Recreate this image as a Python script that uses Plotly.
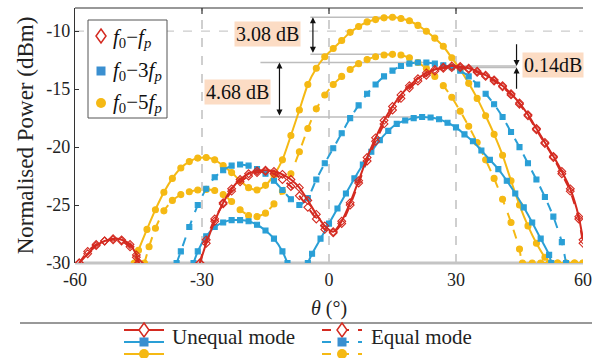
import plotly.graph_objects as go

# ---------------- data ----------------
theta_red_unequal = [-59, -57, -55, -53, -51, -49, -47, -45.5, -44.8, None,
                     -30.5, -29, -27, -25, -23, -21, -19, -17, -15, -13, -11, -9, -7, -5, -3, -1,
                     1, 3, 5, 7, 9, 11, 13, 15, 17, 19, 21, 23, 25, 27, 29, 31, 33, 35, 37, 39,
                     41, 43, 45, 47, 49, 51, 53, 55, 57, 59, 60]
power_red_unequal = [-30, -29.2, -28.5, -28.1, -27.9, -28.0, -28.4, -29.3, -30, None,
                     -30, -28.3, -26.4, -24.8, -23.6, -22.8, -22.3, -22.05, -22.0, -22.1, -22.35, -22.8, -23.5, -24.6, -25.8, -26.8,
                     -27.3, -26.4, -24.8, -22.9, -20.9, -19.2, -17.7, -16.5, -15.5, -14.7, -14.1, -13.6, -13.3, -13.1, -13.0, -13.05, -13.2, -13.45, -13.8, -14.2,
                     -14.7, -15.4, -16.2, -17.2, -18.4, -19.6, -20.8, -22.1, -23.6, -26.0, -28.0]

theta_red_equal = [-59, -57, -55, -53, -51, -49, -47, -45.5, -45, None,
                   -30.5, -29, -27, -25, -23, -21, -19, -17, -15, -13, -11, -9, -7, -5, -3, -1,
                   1, 3, 5, 7, 9, 11, 13, 15, 17, 19, 21, 23, 25, 27, 29, 31, 33, 35, 37, 39,
                   41, 43, 45, 47, 49, 51, 53, 55, 57, 59, 60]
power_red_equal = [-30, -29.0, -28.4, -28.1, -28.0, -28.1, -28.6, -29.5, -30, None,
                   -30, -28.0, -26.2, -24.9, -23.8, -23.0, -22.5, -22.2, -22.1, -22.3, -22.8, -23.4, -24.2, -25.2, -26.2, -27.1,
                   -27.4, -26.6, -25.0, -23.1, -21.2, -19.5, -18.0, -16.8, -15.8, -14.9, -14.3, -13.8, -13.45, -13.2, -13.14, -13.15, -13.3, -13.55, -13.9, -14.3,
                   -14.8, -15.5, -16.3, -17.3, -18.5, -19.7, -20.9, -22.3, -23.8, -26.2, -28.3]

theta_blue_unequal = [-32, -31, -29, -27, -25, -23, -21, -19, -17, -15, -13, -11, -9.8, None,
                      -5, -4, -2, 0, 2, 4, 6, 8, 10, 12, 14, 16, 18, 20, 22, 24, 26, 28, 30,
                      32, 34, 36, 38, 40, 42, 44, 46, 48, 50, 52, 52.5]
power_blue_unequal = [-30, -29.0, -27.7, -26.9, -26.5, -26.3, -26.3, -26.4, -26.7, -27.2, -27.9, -29.0, -30, None,
                      -30, -29.2, -27.9, -26.6, -25.3, -24.0, -22.7, -21.5, -20.4, -19.4, -18.6, -18.0, -17.7, -17.5, -17.4, -17.45, -17.6, -17.9, -18.3,
                      -18.9, -19.5, -20.3, -21.1, -21.9, -22.9, -24.0, -25.2, -26.5, -27.9, -29.3, -30]

theta_blue_equal = [-36, -35, -33, -31, -29, -27, -25, -23, -21, -19, -17, -15, -13, -11, -9, -7, -5, -3, -1,
                    1, 3, 5, 7, 9, 11, 13, 15, 17, 19, 21, 23, 25, 27, 29, 31, 33, 35, 37, 39,
                    41, 43, 45, 47, 49, 51, 53, 55, 56]
power_blue_equal = [-30, -29.0, -26.9, -25.0, -23.6, -22.6, -22.0, -21.6, -21.5, -21.6, -21.9, -22.3, -22.9, -23.7, -24.5, -25.0, -24.4, -22.8, -21.4,
                    -20.1, -18.8, -17.5, -16.4, -15.4, -14.6, -13.9, -13.4, -13.0, -12.8, -12.7, -12.7, -12.8, -12.95, -13.1, -13.4, -13.9, -14.6, -15.4, -16.3,
                    -17.4, -18.7, -20.0, -21.4, -22.8, -24.3, -26.0, -28.2, -30]

theta_yellow_unequal = [-46, -45, -43, -41, -39, -37, -35, -33, -31, -29, -27, -25, -23, -21, -19, -17, -15, -13, -11, -9, -7, -5, -3, -1,
                        1, 3, 5, 7, 9, 11, 13, 15, 17, 19, 21, 23, 25, 27, 29, 31, 33, 35, 37, 39,
                        41, 43, 45, 47, 49, 51, 52.4, 54, 56, 58, 60]
power_yellow_unequal = [-30, -28.9, -27.1, -25.4, -23.9, -22.7, -21.8, -21.25, -20.95, -20.9, -21.1, -21.6, -22.2, -22.9, -23.5, -23.7, -23.3, -22.4, -21.1, -19.0, -16.8, -14.6, -13.2, -12.2,
                        -11.5, -10.8, -10.1, -9.6, -9.2, -9.0, -8.85, -8.8, -8.9, -9.1, -9.5, -10.0, -10.6, -11.3, -12.3, -13.3, -14.5, -15.8, -17.3, -18.9,
                        -20.7, -22.9, -25.0, -26.8, -28.3, -29.5, -30, -30, -30, -30, -30]

theta_yellow_equal = [-43.6, -42.5, -41, -39, -37, -35, -33, -31, -29, -27, -25, -23, -21, -19, -17, -15, -13, -11, -9, -7, -5, -3, -1,
                      1, 3, 5, 7, 9, 11, 13, 15, 17, 19, 21, 23, 25, 27, 29, 31, 33, 35, 37, 39,
                      41, 43, 45, 45.7, 48, 50, 52, 54, 56, 58, 60]
power_yellow_equal = [-30, -28.6, -27.0, -25.5, -24.6, -24.1, -23.85, -23.7, -23.65, -23.75, -24.1, -24.7, -25.4, -25.9, -26.0, -25.7, -24.9, -23.8, -22.3, -20.4, -18.4, -16.7, -15.5,
                      -14.6, -13.9, -13.3, -12.8, -12.45, -12.2, -12.05, -12.0, -12.05, -12.3, -12.7, -13.2, -13.9, -14.7, -15.7, -16.9, -18.2, -19.6, -21.1, -22.7,
                      -24.5, -26.5, -28.8, -30, -30, -30, -30, -30, -30, -30, -30]

x_tick_vals = [-60, -30, 0, 30, 60]
x_tick_text = ["-60", "-30", "0", "30", "60"]
y_tick_vals = [-30, -25, -20, -15, -10]
y_tick_text = ["-30", "-25", "-20", "-15", "-10"]
grid_x = [-30, 0, 30]
grid_y = [-10]

series_labels = ["<i>f</i><sub>0</sub>−<i>f</i><sub><i>p</i></sub>",
                 "<i>f</i><sub>0</sub>−3<i>f</i><sub><i>p</i></sub>",
                 "<i>f</i><sub>0</sub>−5<i>f</i><sub><i>p</i></sub>"]
mode_labels = ["Unequal mode", "Equal mode"]
diff_labels = ["3.08 dB", "4.68 dB", "0.14dB"]

# ---------------- styling ----------------
RED = "#d42a20"
BLUE = "#2a9fd6"
YELLOW = "#f5b914"
PEACH = "#fcdcc4"
FONT = "Liberation Serif, Times New Roman, serif"

W, H = 605, 358
L, R, T, B = 75, 22, 8, 95
PW, PH = W - L - R, H - T - B


def px(x):
    return (x - L) / PW


def py(y):
    return (H - B - y) / PH


def peak(vals):
    return max(v for v in vals if v is not None)


fig = go.Figure()

trace_specs = [
    (theta_yellow_unequal, power_yellow_unequal, YELLOW, "solid", "circle", 6),
    (theta_yellow_equal, power_yellow_equal, YELLOW, "dash", "circle", 6),
    (theta_blue_unequal, power_blue_unequal, BLUE, "solid", "square", 5),
    (theta_blue_equal, power_blue_equal, BLUE, "dash", "square", 5),
    (theta_red_unequal, power_red_unequal, RED, "solid", "diamond-open", 6),
    (theta_red_equal, power_red_equal, RED, "dash", "diamond-open", 6),
]
for xs, ys, col, dash, sym, size in trace_specs:
    fig.add_trace(go.Scatter(
        x=xs, y=ys, mode="lines+markers",
        line=dict(color=col, width=2, dash=dash, shape="spline", smoothing=0.6),
        marker=dict(symbol=sym, size=size, color=col, line=dict(color=col, width=1.1)),
        showlegend=False, hoverinfo="skip",
    ))

shapes = []
# grid lines
for gx in grid_x:
    shapes.append(dict(type="line", xref="x", yref="paper", x0=gx, x1=gx, y0=0, y1=1,
                       line=dict(color="#b0b0b0", width=1.2, dash="dash"), layer="below"))
    shapes.append(dict(type="line", xref="x", yref="paper", x0=gx, x1=gx, y0=1, y1=1 - 6 / PH,
                       line=dict(color="#333", width=1.2), layer="above"))
for gy in grid_y:
    shapes.append(dict(type="line", xref="paper", yref="y", x0=0, x1=1, y0=gy, y1=gy,
                       line=dict(color="#cccccc", width=1.2, dash="dash"), layer="below"))
# top frame line and bottom axis band
shapes.append(dict(type="line", xref="paper", yref="paper", x0=0, x1=1, y0=1, y1=1,
                   line=dict(color="#333", width=1.2), layer="above"))
shapes.append(dict(type="line", xref="paper", yref="paper", x0=0, x1=1, y0=0, y1=0,
                   line=dict(color="#c4c4c4", width=3), layer="below"))

# guide lines for the differences
pk_y_u = peak(power_yellow_unequal)
pk_y_e = peak(power_yellow_equal)
pk_b_u = peak(power_blue_unequal)
pk_b_e = peak(power_blue_equal)
pk_r_u = peak(power_red_unequal)
pk_r_e = peak(power_red_equal)
GUIDE = dict(color="#bdbdbd", width=1.5)
for yv in (pk_y_u, pk_y_e):
    shapes.append(dict(type="line", xref="x", yref="y", x0=-4.4, x1=14.8, y0=yv, y1=yv, line=GUIDE, layer="below"))
for yv in (pk_b_e, pk_b_u):
    shapes.append(dict(type="line", xref="x", yref="y", x0=-16.2, x1=22.6, y0=yv, y1=yv, line=GUIDE, layer="below"))
for yv in (pk_r_u, pk_r_e):
    shapes.append(dict(type="line", xref="x", yref="y", x0=26.7, x1=44.3, y0=yv, y1=yv, line=GUIDE, layer="below"))

annotations = []
ABOX = dict(font=dict(family=FONT, size=20, color="#111"), bgcolor=PEACH, borderpad=1, showarrow=False,
            xref="x", yref="y")
annotations.append(dict(text=diff_labels[0], x=-14.5, y=-10.26, **ABOX))
annotations.append(dict(text=diff_labels[1], x=-21.7, y=-15.26, **ABOX))
annotations.append(dict(text=diff_labels[2], x=52.9, y=-12.93, **ABOX))

ARW = dict(text="", showarrow=True, xref="x", yref="y", axref="x", ayref="y",
           arrowcolor="#111", arrowwidth=1.2, arrowsize=1, arrowhead=2, standoff=0, startstandoff=0)
annotations.append(dict(x=-3.8, y=pk_y_u, ax=-3.8, ay=pk_y_e, arrowside="end+start", startarrowhead=2, **ARW))
annotations.append(dict(x=-11.7, y=pk_b_e, ax=-11.7, ay=pk_b_u, arrowside="end+start", startarrowhead=2, **ARW))
annotations.append(dict(x=44.3, y=pk_r_u, ax=44.3, ay=-11.0, **ARW))
annotations.append(dict(x=44.3, y=pk_r_e, ax=44.3, ay=-15.1, **ARW))

# top-left symbol legend
shapes.append(dict(type="rect", xref="paper", yref="paper", x0=px(88), x1=px(167), y0=py(118), y1=py(20),
                   line=dict(color="#555", width=1), fillcolor="white", layer="above"))
shapes.append(dict(type="path", xref="paper", yref="paper",
                   path=f"M {px(101)},{py(29)} L {px(106)},{py(36)} L {px(101)},{py(43)} L {px(96)},{py(36)} Z",
                   line=dict(color=RED, width=1.5), fillcolor="white", layer="above"))
shapes.append(dict(type="rect", xref="paper", yref="paper", x0=px(96.5), x1=px(105.5), y0=py(75.5), y1=py(66.5),
                   line=dict(color="#3a8fd0", width=0), fillcolor="#3a8fd0", layer="above"))
shapes.append(dict(type="circle", xref="paper", yref="paper", x0=px(96), x1=px(106), y0=py(108), y1=py(98),
                   line=dict(color=YELLOW, width=0), fillcolor=YELLOW, layer="above"))
for lab, yy in zip(series_labels, (38, 71, 103)):
    annotations.append(dict(text=lab, x=px(111), y=py(yy), xref="paper", yref="paper", xanchor="left",
                            yanchor="middle", showarrow=False, font=dict(family=FONT, size=21, color="#111")))

# bottom line-style legend
shapes.append(dict(type="line", xref="paper", yref="paper", x0=px(20), x1=px(592), y0=py(323), y1=py(323),
                   line=dict(color="#333", width=1)))
rows = [(330, RED, "diamond"), (342, BLUE, "square"), (354, YELLOW, "circle")]
for cx0, dash in ((124, "solid"), (322, "dash")):
    mx = cx0 + 20
    for ry, col, kind in rows:
        shapes.append(dict(type="line", xref="paper", yref="paper", x0=px(cx0), x1=px(cx0 + 40), y0=py(ry), y1=py(ry),
                           line=dict(color=col, width=2, dash=dash)))
        if kind == "diamond":
            shapes.append(dict(type="path", xref="paper", yref="paper",
                               path=f"M {px(mx)},{py(ry - 7)} L {px(mx + 5)},{py(ry)} L {px(mx)},{py(ry + 7)} L {px(mx - 5)},{py(ry)} Z",
                               line=dict(color=col, width=1.5), fillcolor="white"))
        elif kind == "square":
            shapes.append(dict(type="rect", xref="paper", yref="paper", x0=px(mx - 4.5), x1=px(mx + 4.5),
                               y0=py(ry + 4.5), y1=py(ry - 4.5), line=dict(width=0), fillcolor="#3a8fd0"))
        else:
            shapes.append(dict(type="circle", xref="paper", yref="paper", x0=px(mx - 5), x1=px(mx + 5),
                               y0=py(ry + 5), y1=py(ry - 5), line=dict(width=0), fillcolor=YELLOW))
for lab, lx in zip(mode_labels, (170, 369)):
    annotations.append(dict(text=lab, x=px(lx), y=py(337), xref="paper", yref="paper", xanchor="left",
                            yanchor="middle", showarrow=False, font=dict(family=FONT, size=21, color="#222")))

fig.update_layout(
    width=W, height=H,
    margin=dict(l=L, r=R, t=T, b=B),
    paper_bgcolor="white", plot_bgcolor="white",
    font=dict(family=FONT, size=18, color="#222"),
    shapes=shapes, annotations=annotations,
    xaxis=dict(range=[-60, 60], tickvals=x_tick_vals, ticktext=x_tick_text, showgrid=False, zeroline=False,
               showline=False, ticks="", tickfont=dict(size=18), ticklabelstandoff=4,
               title=dict(text="<i>θ</i> (°)", font=dict(size=20), standoff=11)),
    yaxis=dict(range=[-30, -8], tickvals=y_tick_vals, ticktext=y_tick_text, showgrid=False, zeroline=False,
               showline=True, linecolor="#333", linewidth=1.2, ticks="inside", ticklen=4, tickcolor="#333",
               tickfont=dict(size=18),
               title=dict(text="Normalised Power (dBm)", font=dict(size=23), standoff=6)),
)

fig.write_html("out.html", config={"displayModeBar": False},
               post_script="document.body.style.margin='0px';")
